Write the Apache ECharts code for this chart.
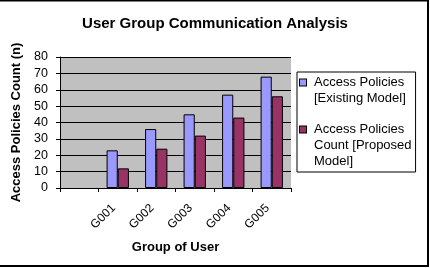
<!DOCTYPE html>
<html>
<head>
<meta charset="utf-8">
<script src="https://cdn.jsdelivr.net/npm/echarts@6/dist/echarts.min.js"></script>
<style>
  html, body { margin: 0; padding: 0; background: #fff; }
  #chart { width: 430px; height: 268px; }
</style>
</head>
<body>
<div id="chart"></div>
<script>
// first slot is left empty in the original chart
const groups = ['', 'G001', 'G002', 'G003', 'G004', 'G005'];
const existingModel = [null, 23, 36, 45, 57, 68];
const proposedModel = [null, 12, 24, 32, 43, 56];
const yTicks = [0, 10, 20, 30, 40, 50, 60, 70, 80];

const seriesNames = [
  'Access Policies [Existing Model]',
  'Access Policies Count [Proposed Model]'
];
const legendLines = [
  ['Access Policies', '[Existing Model]'],
  ['Access Policies', 'Count [Proposed', 'Model]']
];
const colors = ['#9999FF', '#993366'];

const font = 'Liberation Sans, Arial, sans-serif';

const chart = echarts.init(document.getElementById('chart'));

const legendFormatter = (name) => {
  const i = seriesNames.indexOf(name);
  const key = i === 0 ? 'b' : 'r';
  return legendLines[i].map((line, j) =>
    (j === 0 ? '{' + key + '|}{sp|}' : '{ind|}') + '{t|' + line + '}'
  ).join('\n');
};

const option = {
  animation: false,
  title: {
    text: 'User Group Communication Analysis',
    left: 'center',
    top: 11,
    textStyle: { fontFamily: font, fontSize: 15, fontWeight: 'bold', color: '#000' }
  },
  legend: {
    orient: 'vertical',
    left: 297,
    top: 72,
    data: seriesNames,
    selectedMode: false,
    itemWidth: 0,
    itemHeight: 14,
    itemGap: 18,
    itemStyle: { opacity: 0 },
    padding: [4, 4, 4, -3],
    backgroundColor: '#fff',
    borderColor: '#000',
    borderWidth: 1,
    formatter: legendFormatter,
    textStyle: {
      fontFamily: font,
      fontSize: 13,
      color: '#000',
      rich: {
        t: { fontFamily: font, fontSize: 13, lineHeight: 16, color: '#000' },
        b: { width: 6, height: 6, backgroundColor: colors[0], borderColor: '#000', borderWidth: 1 },
        r: { width: 6, height: 6, backgroundColor: colors[1], borderColor: '#000', borderWidth: 1 },
        sp: { width: 8 },
        ind: { width: 14 }
      }
    }
  },
  grid: {
    left: 60,
    right: 139,
    top: 57,
    bottom: 80,
    show: true,
    backgroundColor: '#C0C0C0',
    borderWidth: 0
  },
  xAxis: {
    type: 'category',
    data: groups,
    name: 'Group of User',
    nameLocation: 'middle',
    nameGap: 53,
    nameTextStyle: { fontFamily: font, fontSize: 13, fontWeight: 'bold', color: '#000' },
    axisLine: { lineStyle: { color: '#000', width: 1 } },
    axisTick: { show: true, length: 4, lineStyle: { color: '#000' } },
    axisLabel: {
      interval: 0,
      rotate: 45,
      margin: 14,
      padding: [0, 6, 0, 0],
      fontFamily: font,
      fontSize: 12,
      color: '#000'
    }
  },
  yAxis: {
    type: 'value',
    min: yTicks[0],
    max: yTicks[yTicks.length - 1],
    interval: 10,
    name: 'Access Policies Count (n)',
    nameLocation: 'middle',
    nameGap: 30,
    nameTextStyle: { fontFamily: font, fontSize: 13, fontWeight: 'bold', color: '#000' },
    axisLine: { show: true, lineStyle: { color: '#000', width: 1 } },
    axisTick: { show: true, length: 4, lineStyle: { color: '#000' } },
    axisLabel: { margin: 12, fontFamily: font, fontSize: 12.5, color: '#000' },
    splitLine: { lineStyle: { color: '#000', width: 1 } }
  },
  series: [
    {
      name: seriesNames[0],
      type: 'bar',
      data: existingModel,
      barGap: '0%',
      barCategoryGap: '42%',
      itemStyle: { color: colors[0], borderColor: '#000', borderWidth: 1 }
    },
    {
      name: seriesNames[1],
      type: 'bar',
      data: proposedModel,
      itemStyle: { color: colors[1], borderColor: '#000', borderWidth: 1 }
    }
  ],
  graphic: [
    {
      type: 'polyline',
      silent: true,
      shape: { points: [[0, 0.5], [428, 0.5], [428, 266], [0, 266]] },
      style: { fill: null, stroke: '#000', lineWidth: 2 }
    }
  ]
};

chart.setOption(option);
</script>
</body>
</html>
